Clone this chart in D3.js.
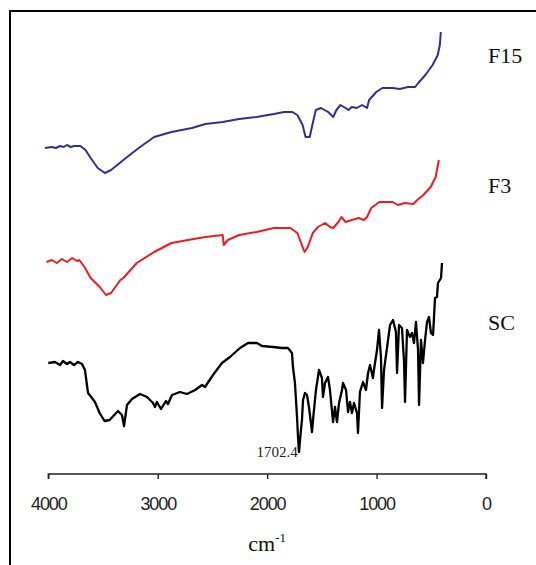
<!DOCTYPE html>
<html>
<head>
<meta charset="utf-8">
<script src="https://cdn.jsdelivr.net/npm/d3@7"></script>
<style>
    body { margin: 0; background: #fff; }
    text { font-family: "Liberation Serif", "Times New Roman", serif; }
</style>
</head>
<body>
<div id="chart"></div>
<script>
// FTIR spectra, wavenumber (cm-1) vs transmittance (a.u., stacked)

// x ticks
let tickValues = [4000, 3000, 2000, 1000, 0];

// series names + colours
let seriesNames = ["F15", "F3", "SC"];
let seriesColors = ["#2E3192", "#ED1C24", "#000000"];

// F15 : [wavenumber, intensity]
let f15Data = [
    [4032, 327], [3969, 328], [3930, 327], [3894, 329], [3860, 328], [3829, 330], [3795, 328],
    [3763, 329], [3707, 329], [3660, 325], [3613, 317], [3548, 307], [3483, 302],
    [3426, 305], [3314, 315], [3174, 327], [3033, 338], [2874, 343], [2687, 347],
    [2565, 351], [2406, 353], [2256, 356], [2097, 358], [1938, 361], [1845, 363],
    [1770, 363], [1724, 360], [1676, 350], [1649, 338], [1611, 338], [1583, 352],
    [1555, 365], [1508, 367], [1442, 363], [1396, 358], [1367, 365], [1330, 370],
    [1283, 367], [1256, 365], [1227, 368], [1181, 367], [1133, 370], [1087, 367],
    [1068, 375], [1003, 383], [947, 387], [853, 387], [788, 386], [713, 388],
    [647, 388], [619, 392], [554, 400], [488, 410], [441, 420], [422, 430], [413, 443]
];

// F3
let f3Data = [
    [4016, 213], [3969, 215], [3922, 212], [3876, 216], [3829, 213], [3782, 217],
    [3735, 214], [3717, 215], [3669, 208], [3613, 197], [3530, 188], [3473, 180],
    [3426, 182], [3342, 195], [3314, 197], [3192, 212], [3033, 223], [2874, 232],
    [2724, 235], [2565, 238], [2406, 240], [2397, 230], [2360, 235], [2256, 240],
    [2097, 243], [1938, 247], [1788, 247], [1724, 242], [1676, 228], [1658, 223],
    [1629, 228], [1583, 242], [1536, 248], [1470, 252], [1424, 248], [1396, 247],
    [1349, 253], [1321, 258], [1283, 253], [1227, 255], [1162, 257], [1115, 255],
    [1087, 258], [1049, 267], [974, 273], [853, 273], [806, 270], [740, 272],
    [665, 271], [628, 275], [572, 280], [506, 288], [460, 298], [431, 315]
];

// SC
let scData = [
    [4000, 112], [3939, 113], [3893, 110], [3866, 114], [3829, 111], [3802, 113],
    [3765, 110], [3729, 113], [3692, 111], [3665, 105], [3637, 82], [3601, 77],
    [3574, 73], [3531, 62], [3486, 54], [3440, 55], [3363, 64], [3327, 60],
    [3308, 49], [3281, 70], [3235, 76], [3162, 81], [3098, 78], [3043, 72],
    [3025, 68], [3007, 73], [2970, 66], [2925, 74], [2906, 71], [2870, 80],
    [2797, 83], [2733, 81], [2659, 85], [2595, 90], [2568, 88], [2495, 100],
    [2413, 112], [2340, 118], [2248, 127], [2175, 132], [2093, 132], [2047, 129],
    [1947, 128], [1864, 127], [1810, 127], [1773, 122], [1764, 108], [1746, 92],
    [1727, 58], [1718, 38], [1709, 23], [1691, 45], [1682, 55], [1672, 75],
    [1654, 82], [1636, 80], [1618, 68], [1590, 43], [1581, 55], [1554, 85],
    [1526, 105], [1499, 97], [1490, 78], [1471, 92], [1444, 98], [1426, 85],
    [1398, 53], [1380, 68], [1362, 53], [1343, 72], [1316, 85], [1307, 92],
    [1279, 85], [1261, 63], [1243, 73], [1225, 62], [1206, 72], [1179, 62],
    [1170, 42], [1152, 83], [1124, 93], [1097, 85], [1078, 102], [1060, 110],
    [1033, 97], [1024, 105], [996, 125], [978, 145], [960, 118], [950, 67],
    [932, 105], [905, 127], [877, 150], [850, 155], [823, 143], [813, 102],
    [795, 150], [768, 147], [749, 113], [740, 73], [722, 145], [695, 138],
    [676, 142], [658, 132], [640, 153], [621, 125], [612, 70], [594, 135],
    [576, 112], [557, 135], [539, 153], [521, 158], [503, 142], [484, 140],
    [475, 158], [466, 177], [448, 178], [439, 192], [411, 197], [402, 212]
];

// where the series name sits (intensity units) and the peak annotation
let labelLevels = [412, 282, 145];
let peakLabel = { wn: 1702.4, text: "1702.4" };

let allSeries = [f15Data, f3Data, scData];

let W = 536, H = 565;

let svg = d3.select("#chart").append("svg")
    .attr("width", W)
    .attr("height", H);

// outer frame (runs off right/bottom like the source image)
svg.append("rect")
    .attr("x", 10)
    .attr("y", 11)
    .attr("width", 700)
    .attr("height", 700)
    .attr("fill", "none")
    .attr("stroke", "#000")
    .attr("stroke-width", 2);

// scales
let x = d3.scaleLinear()
    .domain([4000, 0])
    .range([48.3, 486]);

let y = d3.scaleLinear()
    .domain([0, 450])
    .range([475, 25]);

// x axis
let xAxis = d3.axisBottom(x)
    .tickValues(tickValues)
    .tickSize(5)
    .tickFormat(d3.format("d"));

let xAxisGroup = svg.append("g")
    .attr("class", "x-axis")
    .attr("transform", "translate(0," + y(1) + ")")
    .call(xAxis);

xAxisGroup.select(".domain")
    .attr("stroke", "#222")
    .attr("stroke-width", 1.4)
    .attr("d", "M" + x(4000) + ",5V0H" + x(0) + "V5");
xAxisGroup.selectAll(".tick line")
    .attr("stroke", "#222")
    .attr("stroke-width", 1.4);
// tick labels are a narrow sans in the source
xAxisGroup.selectAll(".tick text")
    .attr("y", 36)
    .attr("dy", 0)
    .attr("fill", "#222")
    .style("font-family", "'Liberation Sans', Arial, sans-serif")
    .style("font-size", "18px")
    .style("letter-spacing", "-1.1px");

// axis title cm-1
let title = svg.append("text")
    .attr("x", x(2000))
    .attr("y", 551)
    .attr("text-anchor", "middle")
    .attr("fill", "#111")
    .style("font-size", "22px");
title.append("tspan").text("cm");
title.append("tspan")
    .attr("dy", -9)
    .style("font-size", "13px")
    .text("-1");

// spectra
let line = d3.line()
    .x(d => x(d[0]))
    .y(d => y(d[1]));

svg.selectAll(".spectrum")
    .data(allSeries)
    .enter().append("path")
    .attr("class", "spectrum")
    .attr("d", line)
    .attr("fill", "none")
    .attr("stroke", (d, i) => seriesColors[i])
    .attr("stroke-width", (d, i) => i === 2 ? 2.3 : 2)
    .attr("stroke-linejoin", "round");

// series labels on the right
svg.selectAll(".series-label")
    .data(seriesNames)
    .enter().append("text")
    .attr("class", "series-label")
    .attr("x", 488)
    .attr("y", (d, i) => y(labelLevels[i]))
    .attr("fill", "#111")
    .style("font-size", "22px")
    .text(d => d);

// peak annotation under SC
svg.append("text")
    .attr("x", x(peakLabel.wn) - 2)
    .attr("y", 457)
    .attr("text-anchor", "end")
    .attr("fill", "#222")
    .style("font-size", "15px")
    .text(peakLabel.text);
</script>
</body>
</html>
